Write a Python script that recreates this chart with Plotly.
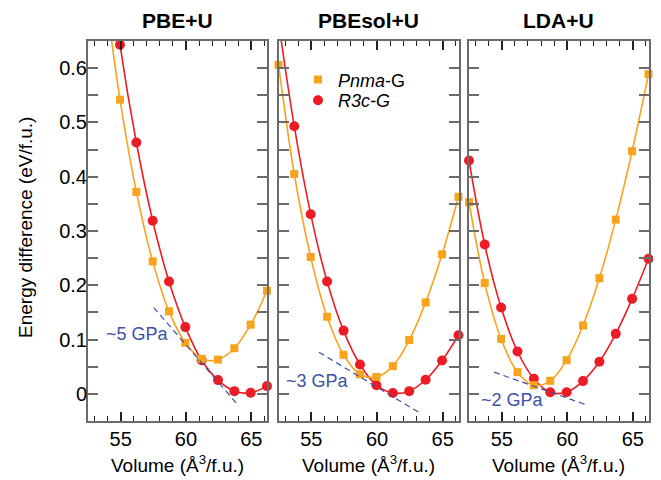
import plotly.graph_objects as go

# ---------------- data ----------------
panel_titles = ["PBE+U", "PBEsol+U", "LDA+U"]
volumes = [52.5, 53.7, 54.95, 56.2, 57.45, 58.7, 59.95, 61.2, 62.45, 63.7, 64.95, 66.2]

# PBE+U (starts at 54.95)
pbe_vol = volumes[2:]
pbe_pnma = [0.542, 0.372, 0.244, 0.152, 0.094, 0.0646, 0.063, 0.084, 0.1275, 0.19]
pbe_r3c = [0.643, 0.463, 0.319, 0.207, 0.123, 0.062, 0.0253, 0.005, 0.002, 0.0143]
pbe_pnma_fit_start = (54.2, 0.67)
pbe_r3c_fit_start = (54.6, 0.71)
pbe_tangent_x = [57.53, 64.05]
pbe_tangent_y = [0.159, -0.0224]

# PBEsol+U
pbesol_vol_pnma = volumes
pbesol_pnma = [0.606, 0.405, 0.252, 0.142, 0.072, 0.036, 0.031, 0.051, 0.099, 0.1685, 0.257, 0.363]
pbesol_vol_r3c = volumes[1:]
pbesol_r3c = [0.493, 0.331, 0.207, 0.1165, 0.054, 0.016, 0.0015, 0.005, 0.026, 0.0615, 0.108]
pbesol_pnma_fit_start = (52.0, 0.70)
pbesol_r3c_fit_start = (52.3, 0.72)
pbesol_tangent_x = [55.58, 63.21]
pbesol_tangent_y = [0.0767, -0.0345]

# LDA+U
lda_vol = volumes
lda_pnma = [0.353, 0.204, 0.101, 0.040, 0.016, 0.024, 0.062, 0.126, 0.213, 0.321, 0.447, 0.589]
lda_r3c = [0.430, 0.275, 0.159, 0.078, 0.028, 0.003, 0.003, 0.0235, 0.059, 0.1105, 0.175, 0.249]
lda_tangent_x = [54.41, 61.5]
lda_tangent_y = [0.040, -0.0206]

pressure_labels = ["~5 GPa", "~3 GPa", "~2 GPa"]
pressure_label_x = [56.3, 55.5, 55.8]
pressure_label_y = [0.110, 0.0235, -0.0114]

x_tick_vals = [55, 60, 65]
y_tick_vals = [0, 0.1, 0.2, 0.3, 0.4, 0.5, 0.6]

# ---------------- style ----------------
ORANGE = "#F9A31D"
RED = "#EC1C24"
BLUE = "#3B52A6"
FRAME = "#6b6b6b"
FONT = "Liberation Sans, Arial, sans-serif"

fig = go.Figure()

panels = [
    dict(vp=pbe_vol, p=pbe_pnma, vr=pbe_vol, r=pbe_r3c,
         ps=pbe_pnma_fit_start, rs=pbe_r3c_fit_start,
         tx=pbe_tangent_x, ty=pbe_tangent_y),
    dict(vp=pbesol_vol_pnma, p=pbesol_pnma, vr=pbesol_vol_r3c, r=pbesol_r3c,
         ps=pbesol_pnma_fit_start, rs=pbesol_r3c_fit_start,
         tx=pbesol_tangent_x, ty=pbesol_tangent_y),
    dict(vp=lda_vol, p=lda_pnma, vr=lda_vol, r=lda_r3c,
         ps=None, rs=None, tx=lda_tangent_x, ty=lda_tangent_y),
]

for i, pd_ in enumerate(panels):
    xa = "x" if i == 0 else f"x{i+1}"
    ya = "y" if i == 0 else f"y{i+1}"
    # red curve
    rx = list(pd_["vr"]); ry = list(pd_["r"])
    if pd_["rs"]:
        rx = [pd_["rs"][0]] + rx; ry = [pd_["rs"][1]] + ry
    fig.add_trace(go.Scatter(x=rx, y=ry, mode="lines", line=dict(color=RED, width=1.6, shape="spline", smoothing=1.0),
                             xaxis=xa, yaxis=ya, showlegend=False, hoverinfo="skip"))
    fig.add_trace(go.Scatter(x=pd_["vr"], y=pd_["r"], mode="markers",
                             marker=dict(symbol="circle", size=10, color=RED),
                             xaxis=xa, yaxis=ya, cliponaxis=False,
                             name="<i>R3c-G</i>", showlegend=(i == 1), legend="legend2"))
    # orange curve
    ox = list(pd_["vp"]); oy = list(pd_["p"])
    if pd_["ps"]:
        ox = [pd_["ps"][0]] + ox; oy = [pd_["ps"][1]] + oy
    fig.add_trace(go.Scatter(x=ox, y=oy, mode="lines", line=dict(color=ORANGE, width=1.6, shape="spline", smoothing=1.0),
                             xaxis=xa, yaxis=ya, showlegend=False, hoverinfo="skip"))
    fig.add_trace(go.Scatter(x=pd_["vp"], y=pd_["p"], mode="markers",
                             marker=dict(symbol="square", size=8, color=ORANGE),
                             xaxis=xa, yaxis=ya, cliponaxis=False,
                             name="<i>Pnma</i>-G", showlegend=(i == 1), legend="legend"))
    # tangent
    fig.add_trace(go.Scatter(x=pd_["tx"], y=pd_["ty"], mode="lines",
                             line=dict(color=BLUE, width=1.2, dash="6px,4px"),
                             xaxis=xa, yaxis=ya, showlegend=False, hoverinfo="skip"))

# page has an 8px body margin; figure is sized so it fills the 661x480 window
OFF = 8
W, H = 661 - OFF, 480 - OFF


def px_x(v):
    return (v - OFF) / W


def px_y(v):
    return 1 - (v - OFF) / H


x_domains = [(px_x(88), px_x(267)), (px_x(278.5), px_x(458.5)), (px_x(469), px_x(648.5))]
y_domain = (px_y(421), px_y(41))

legend_common = dict(xanchor="left", yanchor="top", font=dict(size=18),
                     bgcolor="rgba(0,0,0,0)", itemwidth=30)

layout = dict(
    template="none",
    width=W, height=H,
    margin=dict(l=0, r=0, t=0, b=0, autoexpand=False),
    paper_bgcolor="white", plot_bgcolor="white",
    font=dict(family=FONT, size=19, color="black"),
    legend=dict(x=px_x(298), y=px_y(61.4), **legend_common),
    legend2=dict(x=px_x(298), y=px_y(82.1), **legend_common),
    showlegend=True,
)

for i in range(3):
    xk = "xaxis" if i == 0 else f"xaxis{i+1}"
    yk = "yaxis" if i == 0 else f"yaxis{i+1}"
    anchor_y = "y" if i == 0 else f"y{i+1}"
    anchor_x = "x" if i == 0 else f"x{i+1}"
    layout[xk] = dict(domain=list(x_domains[i]), anchor=anchor_y, range=[52.5, 66.2],
                      automargin=False,
                      showline=True, linecolor=FRAME, linewidth=2, mirror="ticks",
                      ticks="inside", ticklen=9, tickwidth=1.5, tickcolor="#222",
                      tickvals=x_tick_vals, showgrid=False, zeroline=False,
                      tickfont=dict(size=20), ticklabelstandoff=-1,
                      minor=dict(dtick=1, tick0=0, ticks="inside", ticklen=5, tickwidth=1.2,
                                 tickcolor="#222", showgrid=False))
    layout[yk] = dict(domain=list(y_domain), anchor=anchor_x, range=[-0.05, 0.65],
                      automargin=False,
                      showline=True, linecolor=FRAME, linewidth=2, mirror="ticks",
                      ticks="inside", ticklen=10, tickwidth=1.5, tickcolor=FRAME,
                      tickvals=y_tick_vals, showgrid=False, zeroline=False,
                      showticklabels=(i == 0), tickfont=dict(size=20), ticklabelstandoff=-5,
                      minor=dict(dtick=0.05, tick0=0, ticks="inside", ticklen=10, tickwidth=1.5,
                                 tickcolor=FRAME, showgrid=False))

fig.update_layout(**layout)

annotations = []
for i, t in enumerate(panel_titles):
    cx = (x_domains[i][0] + x_domains[i][1]) / 2
    annotations.append(dict(text=f"<b>{t}</b>", x=cx, y=px_y(8), xref="paper", yref="paper",
                            showarrow=False, font=dict(size=21), xanchor="center", yanchor="top",
                            borderpad=0))
    annotations.append(dict(text="Volume (Å<sup>3</sup>/f.u.)", x=cx, y=px_y(464),
                            xref="paper", yref="paper", showarrow=False, font=dict(size=19),
                            xanchor="center", yanchor="middle"))
    xr = "x" if i == 0 else f"x{i+1}"
    yr = "y" if i == 0 else f"y{i+1}"
    annotations.append(dict(text=pressure_labels[i], x=pressure_label_x[i], y=pressure_label_y[i],
                            xref=xr, yref=yr, showarrow=False, font=dict(size=18, color=BLUE),
                            xanchor="center", yanchor="middle"))
annotations.append(dict(text="Energy difference (eV/f.u.)", x=px_x(25), y=px_y(228),
                        xref="paper", yref="paper", showarrow=False, textangle=-90,
                        font=dict(size=19), xanchor="center", yanchor="middle"))
fig.update_layout(annotations=annotations)

fig.write_html("out.html")
